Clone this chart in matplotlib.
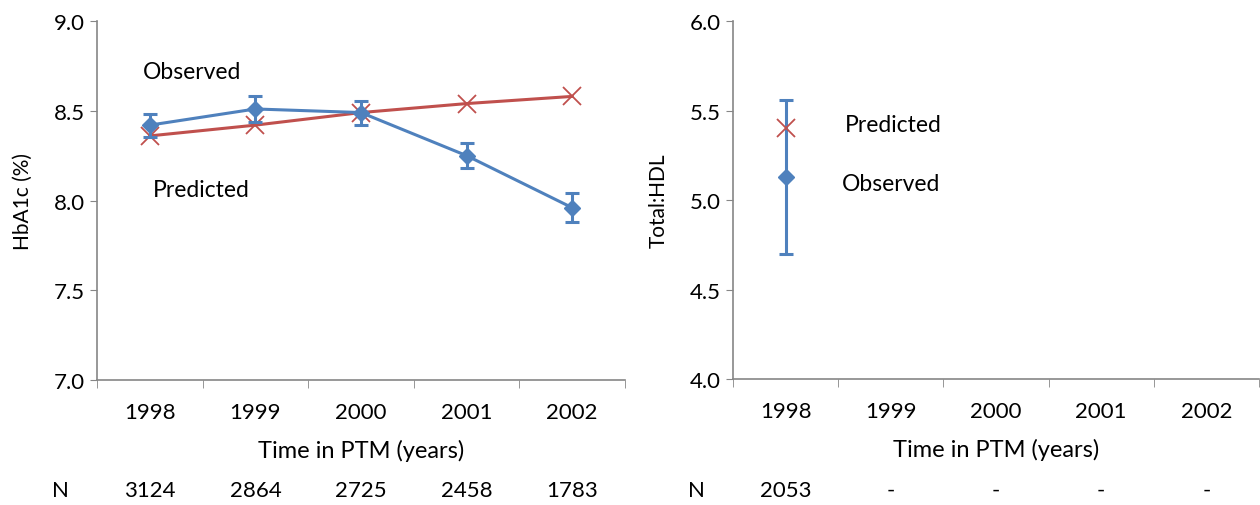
import matplotlib
matplotlib.use("Agg")
import matplotlib.pyplot as plt
import numpy as np

plt.rcParams['font.family'] = ['Lato', 'DejaVu Sans']

# data
years = ['1998', '1999', '2000', '2001', '2002']
hba1c_obs = [8.42, 8.51, 8.49, 8.25, 7.96]
hba1c_err = [0.064, 0.07, 0.067, 0.07, 0.08]
hba1c_pred = [8.36, 8.42, 8.49, 8.54, 8.58]
hba1c_n = ['3124', '2864', '2725', '2458', '1783']

hdl_obs = [5.13]
hdl_err = [0.43]
hdl_pred = [5.40]
hdl_n = ['2053', '-', '-', '-', '-']

blue = '#4F81BD'
red = '#C0504D'
grey = '#868686'
fs = 16
fs_big = 16.5

fig = plt.figure(figsize=(12.6, 5.06), dpi=100)
ax1 = fig.add_axes([0.077, 0.247, 0.419, 0.7095])
ax2 = fig.add_axes([0.5817, 0.249, 0.4175, 0.7075])


def style(ax, ylo, yhi, ylabel):
    ax.set_xlim(-0.5, 4.5)
    ax.set_ylim(ylo, yhi)
    ax.set_yticks(np.arange(ylo, yhi + 0.01, 0.5))
    ax.set_yticklabels(['%.1f' % v for v in np.arange(ylo, yhi + 0.01, 0.5)], fontsize=fs)
    ax.set_xticks(range(5))
    ax.set_xticklabels(years, fontsize=fs)
    ax.set_xticks(np.arange(-0.5, 4.6, 1), minor=True)
    ax.tick_params(axis='x', which='major', length=0, pad=16)
    ax.tick_params(axis='x', which='minor', length=6, color=grey, direction='out')
    ax.tick_params(axis='y', length=5, color=grey, direction='out', pad=4)
    for s in ['top', 'right']:
        ax.spines[s].set_visible(False)
    for s in ['left', 'bottom']:
        ax.spines[s].set_color(grey)
        ax.spines[s].set_linewidth(1.2)
    ax.set_xlabel('Time in PTM (years)', fontsize=17, labelpad=12)
    ax.set_ylabel(ylabel, fontsize=15, labelpad=15)


x = np.arange(5)
ax1.plot(x, hba1c_pred, color=red, lw=2.2, marker='x', ms=13, mew=1.3, zorder=2)
ax1.errorbar(x, hba1c_obs, yerr=hba1c_err, color=blue, lw=2.2, marker='D', ms=8,
             capsize=5, capthick=2.2, elinewidth=2.2, zorder=3)
style(ax1, 7.0, 9.0, 'HbA1c (%)')
ax1.text(-0.07, 8.72, 'Observed', fontsize=fs_big, va='center', ha='left')
ax1.text(0.03, 8.06, 'Predicted', fontsize=fs_big, va='center', ha='left')

ax2.errorbar([0], hdl_obs, yerr=hdl_err, color=blue, lw=2.2, marker='D', ms=8,
             capsize=5, capthick=2.2, elinewidth=2.2, zorder=2)
ax2.plot([0], hdl_pred, color=red, marker='x', ms=13, mew=1.3, ls='none', zorder=3)
style(ax2, 4.0, 6.0, 'Total:HDL')
ax2.text(0.56, 5.42, 'Predicted', fontsize=fs_big, va='center', ha='left')
ax2.text(0.54, 5.09, 'Observed', fontsize=fs_big, va='center', ha='left')

# N rows under the axes
for ax, nvals, nx in [(ax1, hba1c_n, 52), (ax2, hdl_n, 688)]:
    fig.text(nx / 1260, 1 - 491 / 506, 'N', fontsize=fs, ha='left', va='center')
    for i, v in enumerate(nvals):
        xd = ax.transData.transform((i, 0))[0]
        fig.text(xd / 1260, 1 - 491 / 506, v, fontsize=fs, ha='center', va='center')

fig.savefig('out.png', dpi=100)
